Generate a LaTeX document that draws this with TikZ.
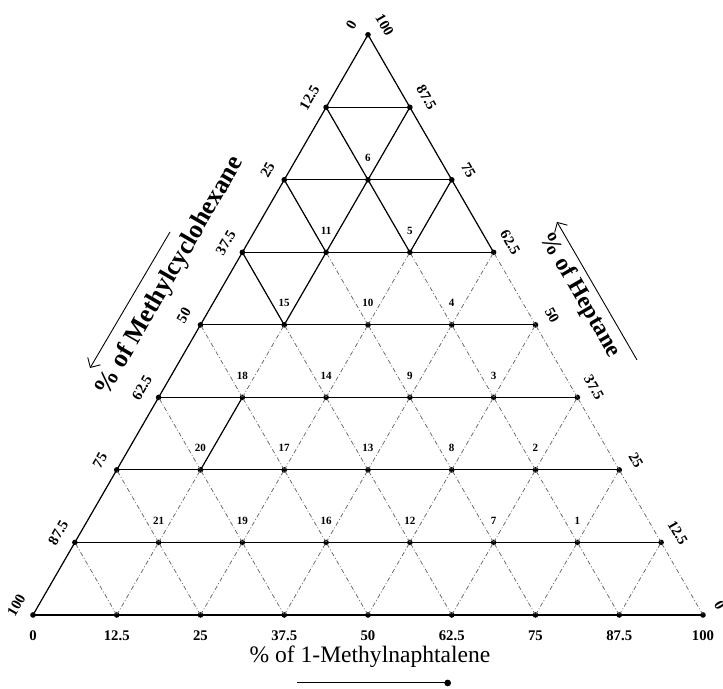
\documentclass[tikz,border=0pt]{standalone}
\usepackage{fontspec}
\setmainfont{Liberation Serif}
\usetikzlibrary{arrows.meta,calc}

\tikzset{
  dot/.style={circle,fill=black,inner sep=0pt,minimum size=3.8pt},
  solidline/.style={line width=0.8pt},
  dashline/.style={line width=0.5pt,black!60,dash pattern=on 3pt off 1.5pt on 0.6pt off 1.5pt},
  ptnum/.style={font=\fontsize{7.5}{8}\selectfont\bfseries,inner sep=0pt},
  ticknum/.style={font=\fontsize{10}{12}\selectfont\bfseries,inner sep=0pt},
  axtitle/.style={font=\fontsize{16}{18}\selectfont\bfseries,inner sep=0pt},
}

\begin{document}
\begin{tikzpicture}[x=2cm,y=2cm]
  \useasboundingbox (-0.394,-0.8836) rectangle (8.239,7.343);
  % lattice points
  \foreach \j in {0,...,8} {
    \pgfmathtruncatemacro{\imax}{8-\j}
    \foreach \i in {0,...,\imax}
      \node[dot] (p\j-\i) at ({\j/2+\i},{\j*0.866}) {};
  }
  % diagonals, dashed first
  \foreach \j in {0,...,7} {
    \pgfmathtruncatemacro{\imax}{7-\j}
    \pgfmathtruncatemacro{\k}{\j+1}
    \foreach \i in {0,...,\imax} {
      \pgfmathtruncatemacro{\ii}{\i+1}
      \draw[dashline] (p\j-\i.center) -- (p\k-\i.center);
      \draw[dashline] (p\j-\ii.center) -- (p\k-\i.center);
    }
  }
  % horizontal lines
  \foreach \j in {0,...,7} {
    \pgfmathtruncatemacro{\imax}{8-\j}
    \draw[solidline] (p\j-0.center) -- (p\j-\imax.center);
  }
  % solid diagonals
  \draw[solidline] (p0-0.center) -- (p8-0.center);
  \draw[solidline] (p5-3.center) -- (p8-0.center);
  \draw[solidline] (p4-1.center) -- (p7-1.center);
  \draw[solidline] (p5-2.center) -- (p6-2.center);
  \draw[solidline] (p4-1.center) -- (p5-0.center);
  \draw[solidline] (p5-1.center) -- (p6-0.center);
  \draw[solidline] (p5-2.center) -- (p7-0.center);
  \draw[solidline] (p2-1.center) -- (p3-1.center);
  % numbered mixtures
  \foreach \n/\j/\i in {1/1/6,2/2/5,3/3/4,4/4/3,5/5/2,6/6/1,7/1/5,8/2/4,9/3/3,10/4/2,11/5/1,
                        12/1/4,13/2/3,14/3/2,15/4/1,16/1/3,17/2/2,18/3/1,19/1/2,20/2/1,21/1/1}
    \node[ptnum] (n\n) at ($(p\j-\i)+(0,0.26)$) {\n};
  % scale on the left edge
  \foreach \j/\v in {0/100,1/87.5,2/75,3/62.5,4/50,5/37.5,6/25,7/12.5,8/0}
    \node[ticknum,rotate=60] (tl\j) at ($(p\j-0)+(150:0.23)$) {\v};
  % scale on the right edge
  \foreach \j/\i/\v in {0/8/0,1/7/12.5,2/6/25,3/5/37.5,4/4/50,5/3/62.5,6/2/75,7/1/87.5,8/0/100}
    \node[ticknum,rotate=-60] (tr\j) at ($(p\j-\i)+(30:0.23)$) {\v};
  % scale on the bottom edge
  \foreach \i/\v in {0/0,1/12.5,2/25,3/37.5,4/50,5/62.5,6/75,7/87.5,8/100}
    \node[ticknum] (tb\i) at ($(p0-\i)+(0,-0.25)$) {\v};
  % axis titles
  \node[axtitle,font=\fontsize{16}{18}\selectfont] (tbot) at (4.024,-0.50) {\% of 1-Methylnaphtalene};
  \node[axtitle,font=\fontsize{17.5}{19}\selectfont\bfseries,rotate=60] (tleft) at (1.636,4.04) {\% of Methylcyclohexane};
  \node[axtitle,rotate=-60] (tright) at (6.531,3.82) {\% of Heptane};
  \coordinate (ab1) at (3.152,-0.812);
  \coordinate (ab2) at (4.991,-0.812);
  \coordinate (al1) at (1.636,4.573);
  \coordinate (al2) at (0.681,2.949);
  \coordinate (ar1) at (7.212,3.045);
  \coordinate (ar2) at (6.257,4.693);
  \draw[line width=0.7pt,-{Circle[length=4.5pt]}] (ab1) -- (ab2);
  \draw[line width=0.6pt,-{Straight Barb[length=5pt]}] (al1) -- (al2);
  \draw[line width=0.6pt,-{Straight Barb[length=5pt]}] (ar1) -- (ar2);
\end{tikzpicture}
\end{document}
